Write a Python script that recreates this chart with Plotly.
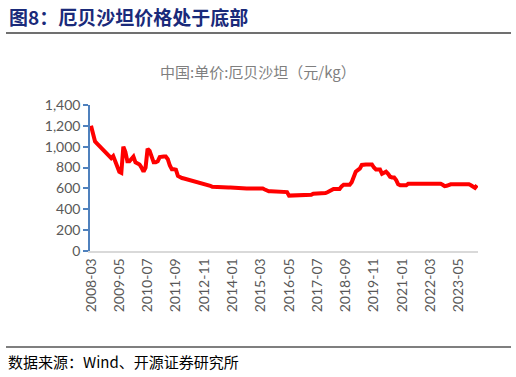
import plotly.graph_objects as go

# Monthly categories 2008-03 .. 2024-02
months = []
y, m = 2008, 3
for _ in range(192):
    months.append(f"{y}-{m:02d}")
    m += 1
    if m > 12:
        m = 1
        y += 1

prices = [
    1200, 1120, 1050, 1030, 1010, 990, 970, 950, 930, 900,
    890, 910, 850, 800, 760, 750, 1000, 950, 860, 860,
    880, 905, 850, 840, 830, 800, 760, 800, 980, 960,
    900, 850, 850, 860, 900, 905, 905, 905, 880, 820,
    785, 785, 780, 720, 705, 700, 695, 690, 685, 680,
    678, 673, 668, 663, 658, 652, 646, 640, 633, 625,
    615, 613, 612, 612, 610, 610, 610, 608, 608, 608,
    606, 606, 606, 604, 604, 603, 602, 600, 600, 600,
    600, 600, 600, 600, 600, 599, 590, 580, 573, 573,
    573, 573, 573, 573, 573, 573, 570, 565, 531, 531,
    531, 531, 531, 531, 531, 531, 531, 531, 531, 540,
    550, 550, 550, 550, 550, 550, 555, 563, 575, 590,
    595, 595, 595, 595, 620, 635, 635, 635, 635, 660,
    720, 760, 775, 790, 825, 830, 830, 830, 830, 830,
    800, 782, 782, 782, 740, 750, 760, 740, 712, 705,
    705, 680, 640, 630, 630, 630, 630, 645, 645, 645,
    645, 645, 645, 645, 645, 645, 645, 645, 645, 645,
    645, 645, 645, 645, 635, 622, 625, 635, 640, 640,
    640, 640, 640, 640, 640, 645, 640, 640, 630, 620,
    605, 630,
]

tick_labels = ["2008-03", "2009-05", "2010-07", "2011-09", "2012-11", "2014-01",
               "2015-03", "2016-05", "2017-07", "2018-09", "2019-11", "2021-01",
               "2022-03", "2023-05"]
y_ticks = [0, 200, 400, 600, 800, 1000, 1200, 1400]
y_tick_text = ["0", "200", "400", "600", "800", "1,000", "1,200", "1,400"]

title_text = "图8：厄贝沙坦价格处于底部"
chart_title = "中国:单价:厄贝沙坦（元/kg）"
source_text = "数据来源：Wind、开源证券研究所"

fig = go.Figure()
fig.add_trace(go.Scatter(
    x=months, y=prices, mode="lines",
    line=dict(color="#FF0000", width=4), hoverinfo="skip",
))

fig.update_layout(
    width=516, height=377,
    margin=dict(l=90, r=38, t=105, b=126),
    paper_bgcolor="white", plot_bgcolor="white",
    showlegend=False,
    font=dict(family="Lato, 'Noto Sans CJK SC'", color="#595959", size=14),
    xaxis=dict(
        type="category", categoryorder="array", categoryarray=months,
        tickvals=tick_labels, ticktext=tick_labels, tickangle=-90,
        showgrid=False, showline=True, linecolor="#D9D9D9", linewidth=1.5,
        ticks="", tickfont=dict(size=14, color="#595959"),
        range=[-0.5, len(months) - 0.5],
    ),
    yaxis=dict(
        range=[0, 1400], tickvals=y_ticks, ticktext=y_tick_text,
        showgrid=False, showline=True, linecolor="#4F81BD", linewidth=1.5,
        ticks="outside", ticklen=5, tickcolor="#4F81BD", tickwidth=1.5,
        tickfont=dict(size=14, color="#595959"), zeroline=False,
    ),
    shapes=[
        dict(type="line", xref="paper", yref="paper",
             x0=-84/388, x1=(511-90)/388, y0=(377-33-126)/146, y1=(377-33-126)/146,
             line=dict(color="#404040", width=1.5)),
        dict(type="line", xref="paper", yref="paper",
             x0=-84/388, x1=(511-90)/388, y0=(377-347-126)/146, y1=(377-347-126)/146,
             line=dict(color="#000000", width=1.2)),
    ],
    annotations=[
        dict(text="<b>" + title_text + "</b>", xref="paper", yref="paper",
             x=-83/388, y=(377-16-126)/146, xanchor="left", yanchor="middle",
             showarrow=False,
             font=dict(family="'Noto Sans CJK SC'", size=19, color="#1A2A7A")),
        dict(text=chart_title, xref="paper", yref="paper",
             x=(258-90)/388, y=(377-71-126)/146, xanchor="center", yanchor="middle",
             showarrow=False,
             font=dict(family="'Noto Sans CJK SC'", size=15, color="#7F7F7F")),
        dict(text=source_text, xref="paper", yref="paper",
             x=-84/388, y=(377-361-126)/146, xanchor="left", yanchor="middle",
             showarrow=False,
             font=dict(family="'Noto Sans CJK SC'", size=15, color="#000000")),
    ],
)

fig.write_html("out.html", config={"displayModeBar": False},
               post_script="document.body.style.margin='0';document.body.style.padding='0';")
